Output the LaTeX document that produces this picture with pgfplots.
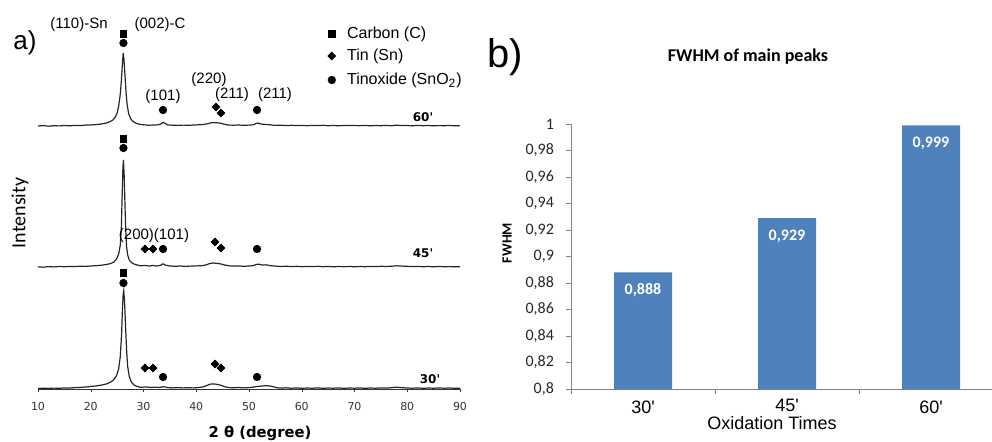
\documentclass[border=0pt]{standalone}
\usepackage{pgfplots}
\pgfplotsset{compat=1.18}
\usepackage{pgfplotstable}
\usepackage{fontspec}
\setmainfont{Liberation Sans}
\newfontfamily\carlito{Carlito}
\newfontfamily\dejavu{DejaVu Sans}
\definecolor{barblue}{HTML}{4F81BD}
\definecolor{axgray}{HTML}{868686}

% XRD patterns: 2theta, intensity above the own baseline (arbitrary units)
\pgfplotstableread{
x y
10 0.0
11 0.4
12 -0.2
13 0.3
14 0.1
15 0.5
16 0.2
17 0.6
18 0.4
19 0.9
20 1.0
21 1.4
22 2.0
23 3.0
23.6 4.2
24.2 6.0
24.6 8.5
25.0 13
25.3 20
25.6 32
25.8 45
26.0 62
26.15 73
26.3 66
26.5 50
26.7 33
26.9 21
27.2 12
27.6 7
28.0 4.5
28.5 3.0
29.0 2.0
29.5 1.5
30.0 1.2
31.0 0.8
32.0 1.0
32.8 1.2
33.3 2.0
33.7 3.6
34.1 2.6
34.6 1.0
35.5 0.8
36.5 0.6
37.5 0.9
38.5 0.7
39.5 1.0
40.5 1.2
41.5 1.6
42.2 2.4
42.8 3.2
43.4 3.4
44.0 3.2
44.6 2.8
45.3 1.8
46.0 1.0
47.0 0.8
48.0 1.0
49.0 0.7
50.0 0.9
50.8 1.2
51.3 2.4
51.7 3.0
52.2 2.0
53.0 1.6
54.0 1.2
55.0 0.6
56 0.8
57 0.4
58 0.7
59 0.5
60 0.6
61 0.3
62 0.6
63 0.4
64 0.7
65 0.3
66 0.5
67 0.2
68 0.6
69 0.4
70 0.5
71 0.3
72 0.6
73 0.2
74 0.5
75 0.3
76 0.6
77 0.3
78 0.8
79 0.4
80 0.5
81 0.2
82 0.6
83 0.3
84 0.5
85 0.2
86 0.4
87 0.3
88 0.5
89 0.2
90 0.4
}\sixty

\pgfplotstableread{
x y
10 0.2
11 -0.2
12 0.4
13 0.1
14 0.5
15 0.3
16 0.6
17 0.4
18 0.8
19 0.6
20 1.0
21 1.3
22 1.8
23 2.5
23.8 3.5
24.4 5
24.9 8
25.3 13
25.6 22
25.8 40
25.95 70
26.1 100
26.2 107
26.35 90
26.5 60
26.65 35
26.8 20
27.0 12
27.3 7
27.7 4.5
28.2 3
28.8 2
29.5 1.2
30.3 1.6
31 1.0
31.8 1.5
32.5 1.0
33.2 1.6
33.7 3.2
34.2 1.8
35 1.0
36 0.7
37 1.0
38 0.6
39 0.9
40 1.1
41 1.3
41.8 2.0
42.5 3.4
43.2 4.0
44.0 3.6
44.7 3.0
45.4 2.0
46.2 1.2
47 0.9
48 1.1
49 0.7
50 1.0
50.8 1.4
51.4 2.6
51.9 2.8
52.5 2.0
53.2 2.2
54 1.4
55 0.9
56 0.5
57 0.8
58 0.4
59 0.7
60 0.3
61 0.6
62 0.4
63 0.7
64 0.3
65 0.6
66 0.2
67 0.5
68 0.3
69 0.6
70 0.2
71 0.5
72 0.3
73 0.6
74 0.4
75 0.7
76 0.5
77 0.8
78 1.2
79 0.9
80 0.7
81 0.4
82 0.6
83 0.3
84 0.5
85 0.2
86 0.5
87 0.3
88 0.4
89 0.2
90 0.3
}\fortyfive

\pgfplotstableread{
x y
10 0.0
11 0.3
12 0.1
13 0.4
14 0.2
15 0.6
16 0.5
17 0.9
18 1.1
19 1.5
20 2.0
21 2.6
22 3.4
23 4.6
23.8 6.5
24.4 9
24.9 13
25.3 20
25.6 32
25.85 55
26.0 78
26.15 95
26.25 98
26.4 88
26.6 62
26.8 38
27.0 22
27.3 12
27.7 6.5
28.2 3.5
28.8 2.0
29.5 1.2
30.5 1.5
31.5 1.0
32.3 1.4
33 1.0
33.8 1.8
34.5 1.0
35.5 0.6
36.5 0.9
37.5 0.6
38.5 0.8
39.5 0.6
40.5 1.0
41.3 1.6
42 3.0
42.7 4.4
43.4 4.6
44.1 4.0
44.8 3.0
45.5 1.6
46.3 0.9
47.2 0.7
48 1.0
49 0.6
50 0.9
50.8 1.4
51.5 2.0
52.3 2.4
53.1 2.8
53.9 2.6
54.6 1.8
55.3 0.8
56 0.4
57 0.7
58 0.3
59 0.6
60 0.2
61 0.5
62 0.3
63 0.6
64 0.2
65 0.5
66 0.3
67 0.6
68 0.2
69 0.5
70 0.3
71 0.6
72 0.2
73 0.5
74 0.3
75 0.6
76 0.4
77 0.8
78 1.3
79 0.8
80 0.5
81 0.3
82 0.6
83 0.2
84 0.5
85 0.3
86 0.6
87 0.3
88 0.5
89 0.2
90 0.3
}\thirty

\begin{document}
\begin{tikzpicture}
\path[use as bounding box] (0,0) rectangle (496pt,220.5pt);

% ---------- a) XRD patterns ----------
\begin{axis}[
  at={(19pt,26pt)}, anchor=south west,
  scale only axis, width=211pt, height=190pt,
  xmin=10, xmax=90, ymin=0, ymax=380,
  axis x line*=bottom, hide y axis,
  axis line style={black!80},
  xtick={10,20,...,90},
  tick align=outside, major tick length=1.5pt,
  tick style={black!80},
  xticklabel style={font=\dejavu\fontsize{5.5}{7}\selectfont, text=black!80, yshift=-1.5pt,
    /pgf/number format/assume math mode=true},
  clip=false,
]
\addplot[black!85, line width=0.6pt] table[x=x, y expr=\thisrow{y}+263] {\sixty};
\addplot[black!85, line width=0.6pt] table[x=x, y expr=\thisrow{y}+122] {\fortyfive};
\addplot[black!85, line width=0.6pt] table[x=x, y expr=\thisrow{y}+0.5] {\thirty};

% carbon
\addplot[only marks, mark=square*, mark size=1.7pt, black] coordinates {
  (26.2,355) (26.2,250) (26.2,116) (65.7,355)};
% tin
\addplot[only marks, mark=square*, mark size=1.35pt, mark options={rotate=45}, black] coordinates {
  (43.74,282) (44.69,276)
  (30.28,140) (31.80,140) (43.55,147) (44.69,141)
  (30.28,21) (31.80,21) (43.55,25) (44.69,21)
  (65.7,333)};
% tin oxide
\addplot[only marks, mark=*, mark size=1.85pt, black] coordinates {
  (26.2,346) (33.70,279) (51.52,279)
  (26.2,241) (33.70,140) (51.52,140)
  (26.2,106) (33.70,12) (51.52,12)
  (65.7,309)};
\end{axis}

% ---------- b) FWHM bars ----------
\begin{axis}[
  at={(285.5pt,26pt)}, anchor=south west,
  scale only axis, width=210.25pt, height=132.5pt,
  xmin=-0.5, xmax=2.42, ymin=0.8, ymax=1,
  ybar, bar width=29pt, bar shift=0pt,
  axis x line*=bottom, axis y line*=left,
  axis line style={axgray},
  tick style={axgray}, tick align=outside, major tick length=2.5pt,
  xtick={-0.5,0.5,1.5}, xticklabels={},
  ytick={0.8,0.82,0.84,0.86,0.88,0.9,0.92,0.94,0.96,0.98,1},
  yticklabel style={font=\carlito\fontsize{8}{9}\selectfont, text=black!85, xshift=-2.5pt,
    /pgf/number format/.cd, use comma, fixed, precision=2, assume math mode=true},
  nodes near coords,
  point meta=y,
  every node near coord/.append style={anchor=center, yshift=-9pt,
    font=\carlito\bfseries\fontsize{8}{9}\selectfont, text=white,
    /pgf/number format/.cd, use comma, fixed, fixed zerofill, precision=3,
    assume math mode=true},
]
\addplot[fill=barblue, draw=none] coordinates {(0,0.888) (1,0.929) (2,0.999)};
\end{axis}

% ---------- text, in pixel units of the reference ----------
\begin{scope}[x=0.5pt, y=-0.5pt, yshift=220.5pt]
\node[font=\fontsize{13}{14}\selectfont] at (25,43) {a)};
\node[font=\fontsize{7.5}{8}\selectfont] at (79,25) {(110)-Sn};
\node[font=\fontsize{7.5}{8}\selectfont] at (160,25) {(002)-C};
\node[font=\fontsize{7.5}{8}\selectfont] at (163,97) {(101)};
\node[font=\fontsize{7.5}{8}\selectfont] at (209,80) {(220)};
\node[font=\fontsize{7.5}{8}\selectfont] at (232,95) {(211)};
\node[font=\fontsize{7.5}{8}\selectfont] at (275,95) {(211)};
\node[font=\fontsize{7.5}{8}\selectfont] at (154,236) {(200)(101)};
\node[font=\dejavu\bfseries\fontsize{6}{7}\selectfont] at (423,117) {60\textquotesingle};
\node[font=\dejavu\bfseries\fontsize{6}{7}\selectfont] at (423,253) {45\textquotesingle};
\node[font=\dejavu\bfseries\fontsize{6}{7}\selectfont] at (430,379) {30\textquotesingle};
\node[font=\fontsize{8}{9}\selectfont, anchor=west] at (340,34) {Carbon (C)};
\node[font=\fontsize{8}{9}\selectfont, anchor=west] at (340,56) {Tin (Sn)};
\node[font=\fontsize{8}{9}\selectfont, anchor=west] at (340,80) {Tinoxide (SnO\textsubscript{2})};
\node[font=\carlito\fontsize{10}{11}\selectfont, rotate=90] at (20,213) {Intensity};
\node[font=\dejavu\bfseries\fontsize{7.4}{8}\selectfont] at (260,433) {2 θ (degree)};

\node[font=\fontsize{20}{22}\selectfont] at (505,57) {b)};
\node[font=\carlito\bfseries\fontsize{9}{10}\selectfont] at (748,57) {FWHM of main peaks};
\node[font=\carlito\bfseries\fontsize{7}{8}\selectfont, rotate=90] at (507,243) {FWHM};
\node[font=\fontsize{9}{10}\selectfont] at (643,407) {30\textquotesingle};
\node[font=\fontsize{9}{10}\selectfont] at (787,405) {45\textquotesingle};
\node[font=\fontsize{9}{10}\selectfont] at (931,407) {60\textquotesingle};
\node[font=\fontsize{9}{10}\selectfont] at (772,423) {Oxidation Times};
\end{scope}
\end{tikzpicture}
\end{document}
